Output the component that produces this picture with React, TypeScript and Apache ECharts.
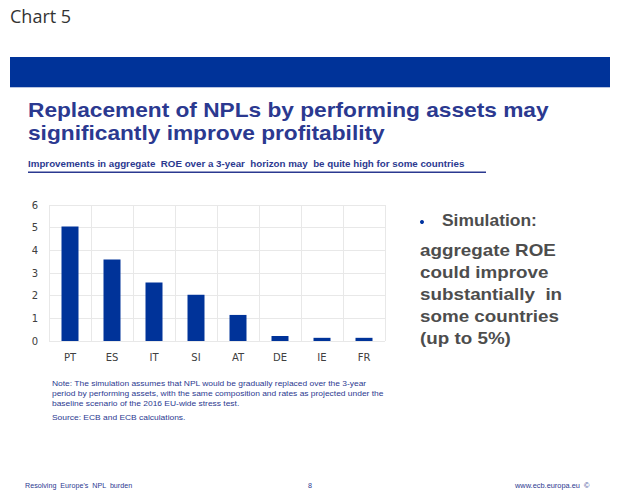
import React, { useEffect, useRef } from "react";
import * as echarts from "echarts";

const categories = ["PT", "ES", "IT", "SI", "AT", "DE", "IE", "FR"];
const roeImprovement = [5.05, 3.6, 2.58, 2.04, 1.15, 0.22, 0.14, 0.14];
const yTicks = { min: 0, max: 6, interval: 1 };

const titleLines = [
  "Replacement of NPLs by performing assets may",
  "significantly improve profitability",
];
const subtitle =
  "Improvements in aggregate  ROE over a 3-year  horizon may  be quite high for some countries";
const sideHeading = "Simulation:";
const sideLines = [
  "aggregate ROE",
  "could improve",
  "substantially  in",
  "some countries",
  "(up to 5%)",
];
const noteLines = [
  "Note: The simulation assumes that NPL would be gradually replaced over the 3-year",
  "period by performing assets, with the same composition and rates as projected under the",
  "baseline scenario of the 2016 EU-wide stress test.",
];
const sourceLine = "Source: ECB and ECB calculations.";
const footerLeft = "Resolving  Europe's  NPL  burden";
const footerMid = "8";
const footerRight = "www.ecb.europa.eu  \u00A9";

export default function App() {
  const ref = useRef<HTMLDivElement>(null);
  useEffect(() => {
    if (!ref.current) return;
    const chart = echarts.init(ref.current, null, { renderer: "svg" });
    const navy = "#2B3990";
    const arial = "Liberation Sans, Arial, sans-serif";
    const txt = (text: string, x: number, y: number, font: string, fill: string, scaleX = 1) => ({
      type: "text",
      x,
      y,
      scaleX,
      style: { text, font, fill, textVerticalAlign: "middle" },
    });
    const graphics: any[] = [
      {
        type: "text",
        left: 10,
        top: 7,
        style: { text: "Chart 5", font: "18px 'Open Sans', sans-serif", fill: "#333333" },
      },
      { type: "rect", shape: { x: 10, y: 57, width: 600, height: 30 }, style: { fill: "#003399" } },
      { type: "rect", shape: { x: 10, y: 87, width: 600, height: 1 }, style: { fill: "#B8C4E0" } },
      ...titleLines.map((t, i) => txt(t, 28, 110 + i * 23, `bold 20px ${arial}`, navy, 1.135)),
      txt(subtitle, 28, 164, `bold 8.5px ${arial}`, navy, 1.15),
      { type: "rect", shape: { x: 28, y: 171.5, width: 458, height: 1.5 }, style: { fill: navy } },
      { type: "circle", shape: { cx: 422, cy: 222, r: 2 }, style: { fill: "#0033A0" } },
      txt(sideHeading, 442, 221, `bold 16px ${arial}`, "#4D4D4D", 1.09),
      ...sideLines.map((t, i) => txt(t, 420, 250 + i * 22, `bold 16.5px ${arial}`, "#4D4D4D", 1.14)),
      ...noteLines.map((t, i) => txt(t, 52, 384 + i * 10, `7.4px ${arial}`, navy, 1.14)),
      txt(sourceLine, 52, 418, `7.4px ${arial}`, navy, 1.14),
      txt(footerLeft, 25, 486, `6.5px ${arial}`, navy, 1.1),
      txt(footerMid, 308, 486, `6.5px ${arial}`, navy, 1.1),
      txt(footerRight, 515, 486, `6.5px ${arial}`, navy, 1.14),
    ];
    chart.setOption({
      animation: false,
      backgroundColor: "#ffffff",
      grid: { left: 49, right: 240, top: 205, bottom: 154, containLabel: false },
      xAxis: {
        type: "category",
        data: categories,
        boundaryGap: true,
        axisLine: { show: false },
        axisTick: { show: false },
        axisLabel: { color: "#404040", fontSize: 10, fontFamily: "DejaVu Sans, sans-serif", margin: 11 },
        splitLine: { show: true, lineStyle: { color: "#E8E8E8", width: 1 } },
      },
      yAxis: {
        type: "value",
        min: yTicks.min,
        max: yTicks.max,
        interval: yTicks.interval,
        axisLine: { show: false },
        axisTick: { show: false },
        axisLabel: { color: "#404040", fontSize: 10, fontFamily: "DejaVu Sans, sans-serif", margin: 11 },
        splitLine: { show: true, lineStyle: { color: "#E8E8E8", width: 1 } },
      },
      series: [
        {
          type: "bar",
          data: roeImprovement,
          barWidth: 17,
          itemStyle: { color: "#003399" },
        },
      ],
      graphic: graphics,
    });
    return () => chart.dispose();
  }, []);
  return (
    <div
      ref={ref}
      style={{ position: "absolute", left: 0, top: 0, width: 625, height: 495 }}
    />
  );
}
